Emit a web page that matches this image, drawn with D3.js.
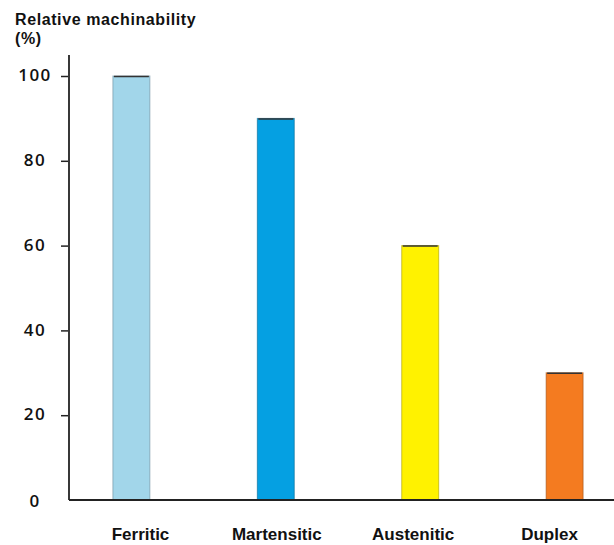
<!DOCTYPE html>
<html>
<head>
<meta charset="utf-8">
<script src="https://cdn.jsdelivr.net/npm/d3@7"></script>
<style>
  html, body { margin: 0; padding: 0; background: #fff; }
  svg { display: block; }
  text { font-family: "Liberation Sans", Arial, sans-serif; fill: #111; }
</style>
</head>
<body>
<svg id="chart" width="614" height="545"></svg>
<script>
// Relative machinability of stainless steel families
const categories = ["Ferritic", "Martensitic", "Austenitic", "Duplex"];
const values = [100, 90, 60, 30];
const barColors = ["#a2d6ea", "#05a0e2", "#fff200", "#f47b20"];
const tickValues = [0, 20, 40, 60, 80, 100];

const svg = d3.select("#chart");
const W = 614, H = 545;
const axisX = 69, baseY = 500, topY = 76;

// Bar positions
const x = d3.scaleBand()
  .domain(categories)
  .range([axisX, 627])
  .paddingInner(0.744)
  .paddingOuter(0.304);

// Category label positions (evenly spaced along the baseline)
const xLabel = d3.scalePoint()
  .domain(categories)
  .range([140.5, 549.5]);

const y = d3.scaleLinear().domain([0, 100]).range([baseY, topY]);

// Title
const title = svg.append("g")
  .attr("font-size", 16).attr("font-weight", "bold")
  .attr("letter-spacing", 0.6);
title.append("text").attr("x", 15).attr("y", 25).text("Relative machinability");
title.append("text").attr("x", 15).attr("y", 44).text("(%)");

// Bars
svg.append("g").selectAll("rect")
  .data(categories)
  .join("rect")
  .attr("x", d => x(d))
  .attr("y", (d, i) => y(values[i]))
  .attr("width", x.bandwidth())
  .attr("height", (d, i) => baseY - y(values[i]))
  .attr("fill", (d, i) => barColors[i])
  .attr("stroke", (d, i) => d3.color(barColors[i]).darker(1.2))
  .attr("stroke-width", 1)
  .attr("stroke-opacity", 0.6);

// Darker cap along each bar's top edge
svg.append("g").selectAll("line")
  .data(categories)
  .join("line")
  .attr("x1", d => x(d) + 1)
  .attr("x2", d => x(d) + x.bandwidth() - 1)
  .attr("y1", (d, i) => y(values[i]) + 0.5)
  .attr("y2", (d, i) => y(values[i]) + 0.5)
  .attr("stroke", "#333")
  .attr("stroke-width", 1.5);

// Y axis
const yAxis = d3.axisLeft(y)
  .tickValues(tickValues.filter(v => v > 0))
  .tickSize(7)
  .tickFormat(d3.format("d"));
const gy = svg.append("g")
  .attr("transform", `translate(${axisX},0)`)
  .call(yAxis);
gy.select(".domain").remove();
gy.selectAll(".tick line").attr("stroke", "#222").attr("stroke-width", 1.5).attr("x2", -8).attr("x1", -1);
gy.selectAll(".tick text")
  .attr("x", -34).attr("dy", "0.28em").attr("text-anchor", "middle")
  .attr("font-size", 17).attr("fill", "#111")
  .attr("letter-spacing", 1.5)
  .style("font-family", "'Open Sans', 'Liberation Sans', sans-serif")
  .style("font-weight", 600);

// Zero label sits just below the baseline, without a tick
svg.append("text")
  .attr("x", 35).attr("y", baseY + 7)
  .attr("text-anchor", "middle")
  .attr("font-size", 17)
  .attr("letter-spacing", 1.5)
  .style("font-family", "'Open Sans', 'Liberation Sans', sans-serif")
  .style("font-weight", 600)
  .text(tickValues[0]);

// Axis lines
svg.append("line")
  .attr("x1", axisX).attr("x2", axisX)
  .attr("y1", 55).attr("y2", baseY)
  .attr("stroke", "#222").attr("stroke-width", 1.8);
svg.append("line")
  .attr("x1", axisX).attr("x2", W)
  .attr("y1", baseY).attr("y2", baseY)
  .attr("stroke", "#222").attr("stroke-width", 2);

// Category labels
svg.append("g").selectAll("text")
  .data(categories)
  .join("text")
  .attr("x", d => xLabel(d))
  .attr("y", 540)
  .attr("text-anchor", "middle")
  .attr("font-size", 17)
  .attr("font-weight", "bold")
  .text(d => d);
</script>
</body>
</html>
